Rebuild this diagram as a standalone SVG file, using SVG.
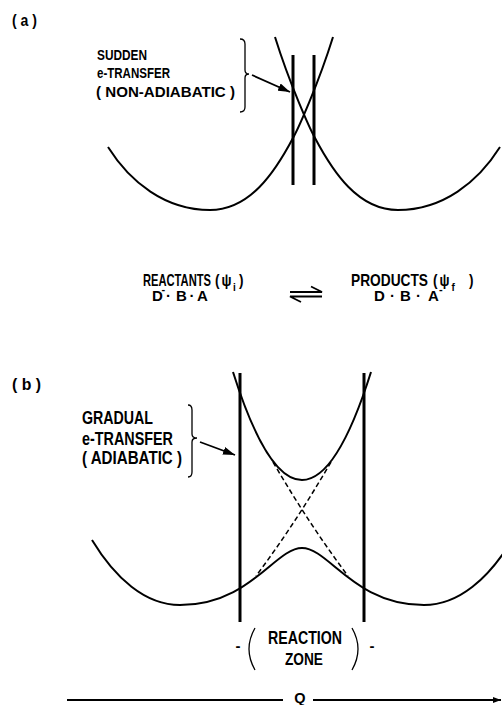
<svg xmlns="http://www.w3.org/2000/svg" width="502" height="705" viewBox="0 0 502 705">
<defs>
<style>
.t { font-family: "Liberation Sans", Arial, sans-serif; font-weight: bold; fill: #000; }
.curve { fill: none; stroke: #000; stroke-width: 2; }
.bar { stroke: #000; stroke-width: 3; }
.dash { fill: none; stroke: #000; stroke-width: 1.5; stroke-dasharray: 5 3; }
.brace { fill: none; stroke: #000; stroke-width: 1.3; }
.conn { fill: none; stroke: #000; stroke-width: 1.8; }
</style>
<marker id="ah" viewBox="0 0 12 8" refX="12" refY="4" markerWidth="12" markerHeight="8" markerUnits="userSpaceOnUse" orient="auto">
<path d="M0,0 L12,4 L0,8 Z" fill="#000"/>
</marker>
<marker id="ahq" viewBox="0 0 8 6" refX="8" refY="3" markerWidth="8" markerHeight="6" markerUnits="userSpaceOnUse" orient="auto">
<path d="M0,0 L8,3 L0,6 Z" fill="#000"/>
</marker>
</defs>
<rect width="502" height="705" fill="#fff"/>

<!-- Panel (a) -->
<g id="label-a">
<text class="t" x="12" y="26" font-size="16.5" textLength="25" lengthAdjust="spacingAndGlyphs">( a )</text>
</g>
<g id="sudden-label">
<text class="t" x="97" y="59.5" font-size="15" textLength="50" lengthAdjust="spacingAndGlyphs">SUDDEN</text>
<text class="t" x="97" y="78" font-size="15" textLength="73" lengthAdjust="spacingAndGlyphs">e-TRANSFER</text>
<text class="t" x="96" y="96.5" font-size="15" textLength="139" lengthAdjust="spacingAndGlyphs">( NON-ADIABATIC )</text>
<path class="brace" d="M240,39 Q245,39 245,44 L245,70 Q245,74 249,74 Q245,74 245,78 L245,107 Q245,112 240,112"/>
</g>
<g id="curves-a">
<path class="curve" d="M108,147 C130,182 165,210 210,210 C250,210 275,172 293,138 C298,129 318,85 333,37"/>
<path class="curve" d="M500,147 C478,182 443,210 398,210 C358,210 333,172 315,138 C310,129 290,85 275,37"/>
<line class="bar" x1="293" y1="55" x2="293" y2="185"/>
<line class="bar" x1="314" y1="55" x2="314" y2="185"/>
</g>

<!-- Middle: reactants / products -->
<g id="reactants">
<text class="t" y="285.5" font-size="16.5"><tspan x="143" textLength="68" lengthAdjust="spacingAndGlyphs">REACTANTS</tspan><tspan x="215" textLength="4.5" lengthAdjust="spacingAndGlyphs">(</tspan><tspan x="221.5" textLength="10" lengthAdjust="spacingAndGlyphs">ψ</tspan><tspan x="233" dy="5" font-size="10">i</tspan><tspan x="239" dy="-5" textLength="4.5" lengthAdjust="spacingAndGlyphs">)</tspan></text>
<text class="t" y="300.5" font-size="15"><tspan x="152">D</tspan><tspan x="161.5" dy="-7.5" font-size="11">-</tspan><tspan x="166" dy="7.5">·</tspan><tspan x="176">B</tspan><tspan x="189.5">·</tspan><tspan x="197">A</tspan></text>
</g>
<g id="products">
<text class="t" y="285.5" font-size="16.5"><tspan x="351" textLength="77" lengthAdjust="spacingAndGlyphs">PRODUCTS</tspan><tspan x="433" textLength="4.5" lengthAdjust="spacingAndGlyphs">(</tspan><tspan x="439.5" textLength="10" lengthAdjust="spacingAndGlyphs">ψ</tspan><tspan x="451.5" dy="5" font-size="10">f</tspan><tspan x="469" dy="-5" textLength="4.5" lengthAdjust="spacingAndGlyphs">)</tspan></text>
<text class="t" y="300.5" font-size="15"><tspan x="374">D</tspan><tspan x="390">·</tspan><tspan x="400">B</tspan><tspan x="416">·</tspan><tspan x="428">A</tspan><tspan x="439" dy="-7.5" font-size="11">-</tspan></text>
</g>

<!-- Panel (b) -->
<g id="label-b">
<text class="t" x="12" y="390" font-size="16.5" textLength="29" lengthAdjust="spacingAndGlyphs">( b )</text>
</g>
<g id="gradual-label">
<text class="t" x="82" y="423.5" font-size="18" textLength="71" lengthAdjust="spacingAndGlyphs">GRADUAL</text>
<text class="t" x="82" y="445" font-size="18" textLength="91" lengthAdjust="spacingAndGlyphs">e-TRANSFER</text>
<text class="t" x="82" y="464" font-size="18" textLength="100" lengthAdjust="spacingAndGlyphs">( ADIABATIC )</text>
<path class="brace" d="M188,405 Q192,405 192,410 L192,434 Q192,438 197,438 Q192,438 192,442 L192,472 Q192,477 188,477"/>
</g>
<g id="curves-b">
<path class="curve" d="M233,372 C245,410 270,480 302,480 C334,480 359,410 371,372"/>
<path class="curve" d="M92,540 C115,578 145,605 180,605 C250,605 275,548 302,548 C329,548 354,605 424,605 C459,605 489,578 512,540"/>
<path class="dash" d="M273,462 Q309,524 348,576"/>
<path class="dash" d="M331,462 Q295,524 256,576"/>
<line class="bar" x1="240" y1="373" x2="240" y2="622"/>
<line class="bar" x1="364" y1="373" x2="364" y2="622"/>
</g>
<g id="reaction-zone">
<text class="t" y="651" font-size="15"><tspan x="235.5">-</tspan><tspan x="369.5">-</tspan></text>
<path class="brace" d="M255,628 Q243,649 255,670"/>
<path class="brace" d="M352,628 Q364,649 352,670"/>
<text class="t" x="268" y="643.5" font-size="17.5" textLength="74" lengthAdjust="spacingAndGlyphs">REACTION</text>
<text class="t" x="285" y="664.5" font-size="16.5" textLength="38" lengthAdjust="spacingAndGlyphs">ZONE</text>
</g>
<g id="q-axis">
<text class="t" x="300" y="703" font-size="14.5" text-anchor="middle">Q</text>
</g>

<!-- Connectors -->
<g id="connectors">
<path class="conn" d="M252,75 L290,92" marker-end="url(#ah)"/>
<path class="conn" d="M200,442 L235,455" marker-end="url(#ah)"/>
<path class="conn" d="M290,292 L322,292 L311,286.5"/>
<path class="conn" d="M322,296.5 L290,296.5 L301,302"/>
<path class="conn" stroke-width="1.5" d="M67,700 L283,700"/>
<path class="conn" stroke-width="1.5" d="M313,700 L501,700" marker-end="url(#ahq)"/>
</g>
</svg>
